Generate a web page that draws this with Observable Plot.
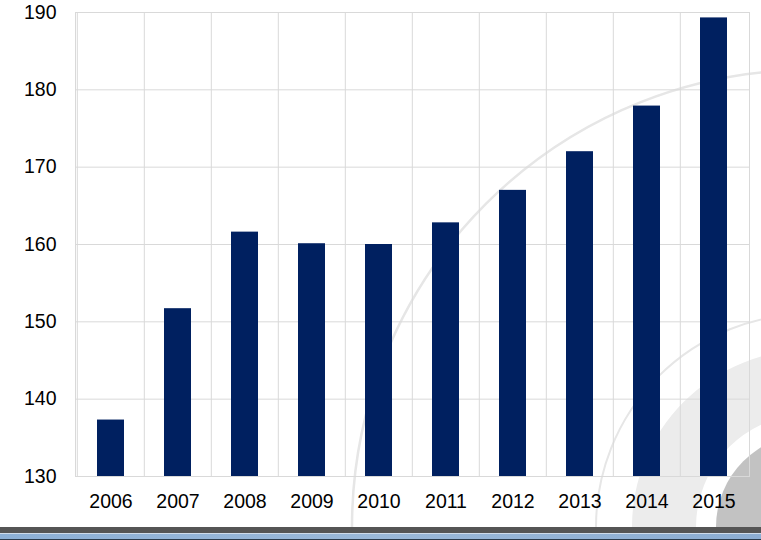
<!DOCTYPE html>
<html>
<head>
<meta charset="utf-8">
<script src="https://cdn.jsdelivr.net/npm/d3@7"></script>
<script src="https://cdn.jsdelivr.net/npm/@observablehq/plot@0.6"></script>
<style>
  html, body { margin: 0; padding: 0; background: #fff; }
  #wrap { position: relative; width: 761px; height: 540px; overflow: hidden; }
  #bg, #chart { position: absolute; left: 0; top: 0; }
</style>
</head>
<body>
<div id="wrap">
  <svg id="bg" width="761" height="540" xmlns="http://www.w3.org/2000/svg">
    <defs>
      <clipPath id="clipTop"><rect x="0" y="0" width="761" height="527"/></clipPath>
      <linearGradient id="strip" x1="0" x2="1" y1="0" y2="0">
        <stop offset="0" stop-color="#8db0d6"/>
        <stop offset="0.5" stop-color="#9ab8d8"/>
        <stop offset="1" stop-color="#8cadd2"/>
      </linearGradient>
    </defs>
    <g clip-path="url(#clipTop)">
      <circle cx="809" cy="527" r="457" fill="none" stroke="#e6e6e6" stroke-width="2.5"/>
      <circle cx="809" cy="527" r="213" fill="none" stroke="#e6e6e6" stroke-width="2"/>
      <circle cx="809" cy="527" r="145" fill="none" stroke="#ececec" stroke-width="64"/>
      <circle cx="809" cy="527" r="93" fill="#c2c2c2"/>
    </g>
    <rect x="0" y="527" width="761" height="6" fill="#555555"/>
    <rect x="0" y="533" width="761" height="1" fill="#cfdceb"/>
    <rect x="0" y="534" width="761" height="5" fill="url(#strip)"/>
    <rect x="0" y="539" width="761" height="1" fill="#2b3a4a"/>
  </svg>
  <div id="chart"></div>
</div>
<script>
const years = ["2006","2007","2008","2009","2010","2011","2012","2013","2014","2015"];
const values = [137.3, 151.7, 161.6, 160.1, 160.0, 162.8, 167.0, 172.0, 177.9, 189.3];
const yTicks = [130, 140, 150, 160, 170, 180, 190];

const data = years.map((year, i) => ({year, value: values[i]}));
const yMin = yTicks[0];
const yMax = yTicks[yTicks.length - 1];

const W = 761, H = 540;
const mL = 75, mR = 12, mT = 12, mB = 64;
const step = (W - mL - mR) / years.length;

const chart = Plot.plot({
  width: W,
  height: H,
  marginLeft: mL,
  marginRight: mR,
  marginTop: mT,
  marginBottom: mB,
  style: {
    background: "transparent",
    fontFamily: "'Liberation Sans', Arial, sans-serif",
    fontSize: "19.5px",
    color: "#000"
  },
  x: {
    domain: years,
    paddingInner: 0.6,
    paddingOuter: 0.3,
    label: null,
    tickSize: 0,
    tickPadding: 18
  },
  y: {
    domain: [yMin, yMax],
    ticks: yTicks,
    label: null,
    tickSize: 0,
    tickPadding: 19
  },
  marks: [
    Plot.gridY(yTicks, {stroke: "#d9d9d9", strokeOpacity: 1, strokeWidth: 1}),
    Plot.ruleX(years, {x: d => d, dx: -step / 2, stroke: "#d9d9d9", strokeWidth: 1}),
    Plot.frame({stroke: "#d9d9d9", strokeWidth: 1}),
    Plot.barY(data, {x: "year", y1: () => yMin, y2: "value", fill: "#002060"})
  ]
});
document.getElementById("chart").appendChild(chart);
</script>
</body>
</html>
